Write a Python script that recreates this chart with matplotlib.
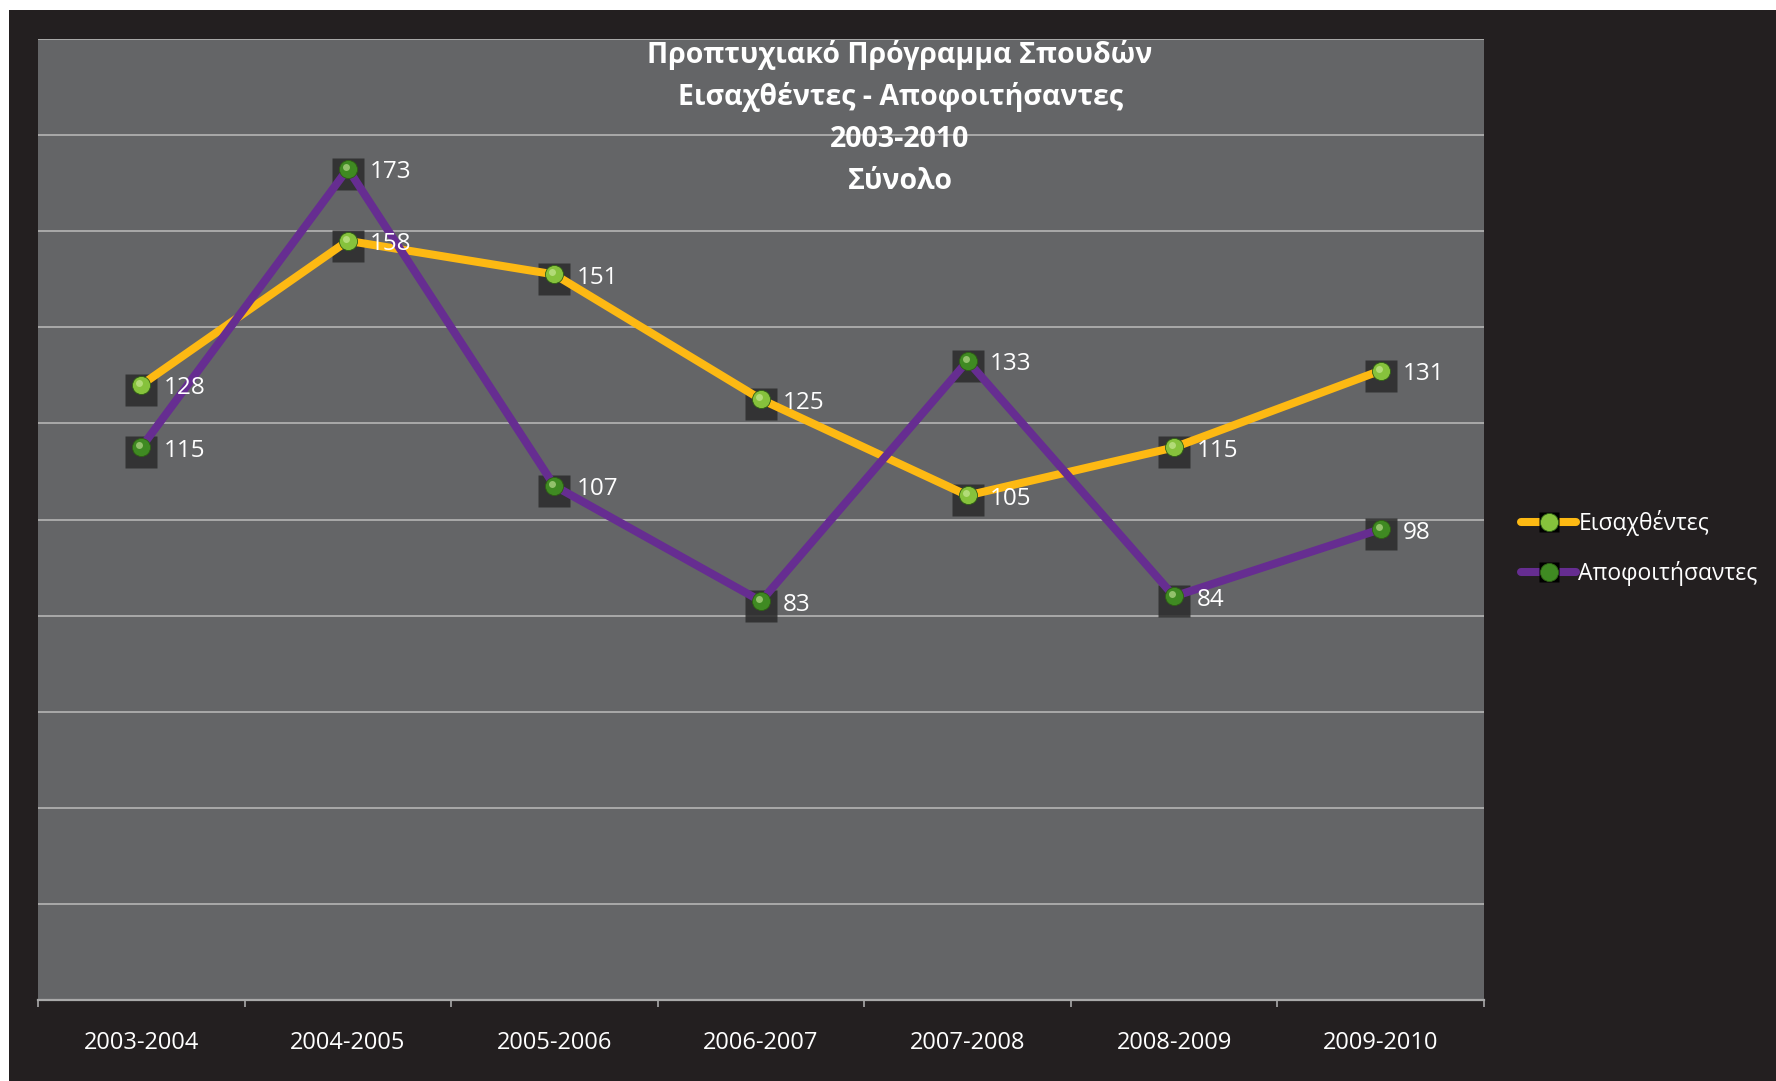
"""Undergraduate programme: admitted vs graduated students, 2003-2010 (dark Excel-style line chart)."""
import matplotlib
matplotlib.use("Agg")
import matplotlib.pyplot as plt
from matplotlib.lines import Line2D
from matplotlib.patches import Rectangle
from matplotlib.legend_handler import HandlerTuple
from matplotlib.transforms import offset_copy

plt.rcParams["font.family"] = ["Open Sans", "DejaVu Sans"]

# --- data ------------------------------------------------------------------------------------- #
YEARS = ["2003-2004", "2004-2005", "2005-2006", "2006-2007", "2007-2008", "2008-2009", "2009-2010"]
ADMITTED = [128, 158, 151, 125, 105, 115, 131]        # Εισαχθέντες
GRADUATED = [115, 173, 107, 83, 133, 84, 98]          # Αποφοιτήσαντες
SERIES_NAMES = ["Εισαχθέντες", "Αποφοιτήσαντες"]
TITLE_LINES = ["Προπτυχιακό Πρόγραμμα Σπουδών", "Εισαχθέντες - Αποφοιτήσαντες", "2003-2010", "Σύνολο"]

# --- style ------------------------------------------------------------------------------------ #
DARK_BG = "#231f20"
PLOT_BG = "#646567"
GRID = "#a9a9a9"
LINE_COLORS = ["#fdb913", "#662d91"]
BALL_COLORS = ["#86c23c", "#3f8a22"]
SHADOW = "#2b2b2b"
W, H = 1776, 1081

fig = plt.figure(figsize=(W / 100, H / 100), dpi=100, facecolor="white")
fig.patches.append(Rectangle((9 / W, 0), 1 - 9 / W, 1 - 10 / H, transform=fig.transFigure,
                             facecolor=DARK_BG, edgecolor="none", zorder=-5))

ax = fig.add_axes([38 / W, 1 - 1000 / H, (1484 - 38) / W, (1000 - 39) / H])
ax.set_facecolor(PLOT_BG)

x = list(range(len(YEARS)))
shadow_tr = offset_copy(ax.transData, fig=fig, x=0, y=-5, units="dots")
hilite_tr = offset_copy(ax.transData, fig=fig, x=-2, y=2, units="dots")

handles = []
for vals, lc, bc in zip((ADMITTED, GRADUATED), LINE_COLORS, BALL_COLORS):
    ax.plot(x, vals, ls="none", marker="s", ms=23.5, mfc=SHADOW, mec="none", alpha=0.85,
            transform=shadow_tr, zorder=3)
    ax.plot(x, vals, color=lc, lw=5.8, solid_capstyle="round", solid_joinstyle="round", zorder=4)
    ax.plot(x, vals, ls="none", marker="o", ms=13, mfc=bc, mec="#2e5e14", mew=0.6, zorder=5)
    ax.plot(x, vals, ls="none", marker="o", ms=5, mfc="#d8f0a8", mec="none", alpha=0.55,
            transform=hilite_tr, zorder=6)
    for xi, v in zip(x, vals):
        ax.annotate(str(v), (xi, v), xytext=(16, -2.5), textcoords="offset points",
                    color="white", fontsize=17.5, va="center", ha="left", zorder=7)
    handles.append((Line2D([], [], color=lc, lw=5.8, solid_capstyle="round"),
                    Line2D([], [], ls="none", marker="s", ms=15, mfc="black", mec="none"),
                    Line2D([], [], ls="none", marker="o", ms=13, mfc=bc, mec="#2e5e14", mew=0.6)))

ax.set_xlim(-0.5, len(YEARS) - 0.5)
ax.set_ylim(0, 200)
ax.set_yticks(range(0, 201, 20))
ax.yaxis.grid(True, color=GRID, lw=1.4)
ax.set_axisbelow(True)
ax.tick_params(axis="y", length=0, labelleft=False)

ax.set_xticks(x)
ax.set_xticklabels(YEARS, color="white", fontsize=17)
ax.set_xticks([i - 0.5 for i in range(len(YEARS) + 1)], minor=True)
ax.tick_params(axis="x", which="major", length=0, pad=22.5)
ax.tick_params(axis="x", which="minor", length=5, width=1.2, color=GRID, direction="out")

for side in ("left", "right", "top"):
    ax.spines[side].set_visible(False)
ax.spines["bottom"].set_color(GRID)
ax.spines["bottom"].set_linewidth(1.6)

# title block (centred a bit right of the plot centre, as in the original)
for i, line in enumerate(TITLE_LINES):
    fig.text(900 / W, 1 - (55 + 42.3 * i) / H, line, color="white", fontsize=20.5,
             fontweight="bold", ha="center", va="center")

fig.legend(handles, SERIES_NAMES, handler_map={tuple: HandlerTuple(ndivide=1)},
           loc="center left", bbox_to_anchor=(1521 / W, 1 - 548 / H), frameon=False,
           fontsize=16.5, labelcolor="white", handlelength=2.4, handletextpad=0.1,
           labelspacing=1.05, borderpad=0, borderaxespad=0)

fig.savefig("out.png", dpi=100, facecolor="white")
